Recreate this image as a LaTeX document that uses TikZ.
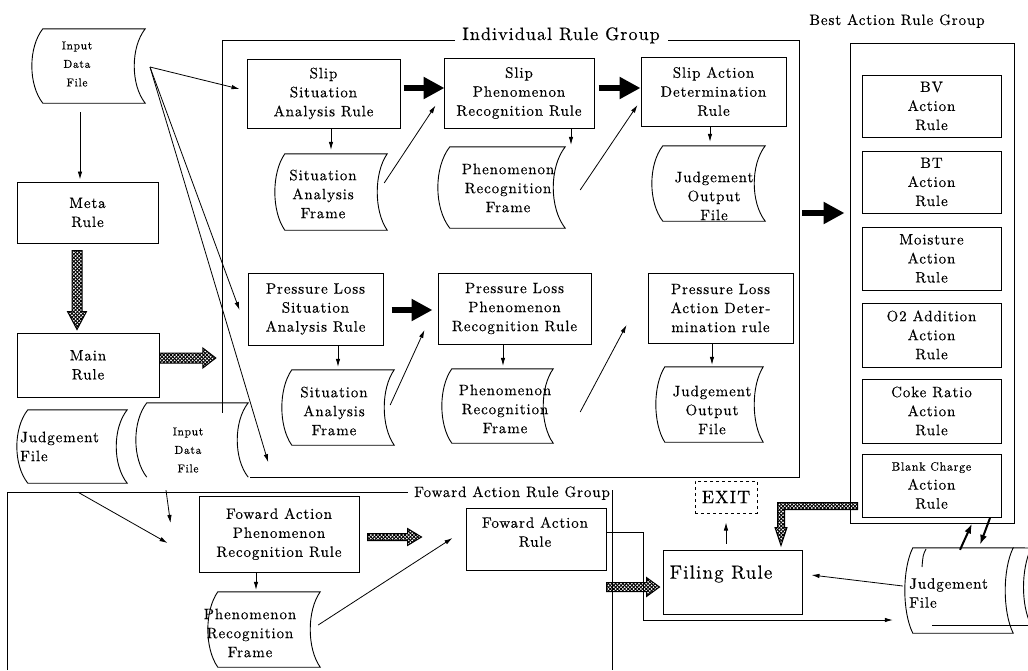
\documentclass[tikz,border=0pt]{standalone}
\usepackage{fontspec}
\setmainfont{lmroman10-regular.otf}[LetterSpace=6,FakeBold=0.3]
\usetikzlibrary{arrows.meta,calc,patterns}
\pgfdeclarepatternformonly{xhatch}{\pgfqpoint{-1pt}{-1pt}}{\pgfqpoint{5pt}{5pt}}{\pgfqpoint{3.6pt}{3.6pt}}{%
 \pgfsetlinewidth{0.85pt}%
 \pgfpathmoveto{\pgfqpoint{-0.1pt}{-0.1pt}}\pgfpathlineto{\pgfqpoint{3.7pt}{3.7pt}}%
 \pgfpathmoveto{\pgfqpoint{-0.1pt}{3.7pt}}\pgfpathlineto{\pgfqpoint{3.7pt}{-0.1pt}}%
 \pgfusepath{stroke}}
\newcommand\fmain{\fontsize{15}{19}\selectfont}
\newcommand\fsm{\fontsize{11.5}{18.5}\selectfont}
\newcommand\fbig{\fontsize{19}{22}\selectfont}
\newcommand\fexit{\fontsize{18}{22}\selectfont}
\newcommand\fblank{\fontsize{12}{15}\selectfont}
\newcommand\flab{\fontsize{18}{22}\selectfont}
\newcommand\flabb{\fontsize{15}{19}\selectfont}
% tape outline around a node: #1 node, #2 bulge
\newcommand\tapeout[2]{\draw[tapeline] (#1.north west) -- (#1.north east)
  .. controls ($(#1.north east)!0.25!(#1.south east)+(-1.33*#2,0)$) and ($(#1.north east)!0.75!(#1.south east)+(-1.33*#2,0)$) .. (#1.south east)
  -- (#1.south west)
  .. controls ($(#1.south west)!0.25!(#1.north west)+(-1.33*#2,0)$) and ($(#1.south west)!0.75!(#1.north west)+(-1.33*#2,0)$) .. (#1.north west) -- cycle;}
\newcommand\tapeopen[2]{\draw[tapeline] (#1.south east)
  .. controls ($(#1.north east)!0.75!(#1.south east)+(-1.33*#2,0)$) and ($(#1.north east)!0.25!(#1.south east)+(-1.33*#2,0)$) .. (#1.north east)
  -- (#1.north west)
  .. controls ($(#1.north west)!0.25!(#1.south west)+(-1.33*#2,0)$) and ($(#1.north west)!0.75!(#1.south west)+(-1.33*#2,0)$) .. (#1.south west);}
% checkered arrows: #1 start, #2 tip, #3 shaft half, #4 head half, #5 head length
\newcommand\chkright[5]{\path[chk] let \p1=(#1), \p2=(#2) in (\x1,\y1+#3) -- (\x2-#5,\y1+#3) -- (\x2-#5,\y1+#4) -- (\x2,\y1) -- (\x2-#5,\y1-#4) -- (\x2-#5,\y1-#3) -- (\x1,\y1-#3) -- cycle;}
\newcommand\chkdown[5]{\path[chk] let \p1=(#1), \p2=(#2) in (\x1-#3,\y1) -- (\x1-#3,\y2+#5) -- (\x1-#4,\y2+#5) -- (\x1,\y2) -- (\x1+#4,\y2+#5) -- (\x1+#3,\y2+#5) -- (\x1+#3,\y1) -- cycle;}
\begin{document}
\begin{tikzpicture}[x=1pt,y=-1pt,
  box/.style={draw, line width=1pt, inner sep=0pt, align=center, font=\fmain},
  tapebox/.style={inner sep=0pt},
  tapeline/.style={line width=0.9pt},
  ttext/.style={align=center, font=\fmain, inner sep=0pt},
  frame/.style={line width=1pt},
  arr/.style={line width=0.8pt, -{Latex[length=8pt,width=4.5pt]}},
  bigarr/.style={line width=6.5pt, -{Triangle[length=21pt,width=21pt]}},
  medarr/.style={line width=2pt, -{Latex[length=10pt,width=7pt]}},
  chk/.style={draw, line width=1pt, pattern=xhatch, line join=miter},
]
\fill[white] (0,0) rectangle (1028,670);
\useasboundingbox (0,0) rectangle (1028,670);

% ---------- group frames ----------
\node[inner sep=0pt, minimum width=577pt, minimum height=437pt] (indiv) at (510.5,258.5) {};
\node[anchor=base, font=\flab, inner sep=0pt] (indlbl) at (561,40) {Individual Rule Group};
\draw[frame] (250,477) -- (799,477) -- (799,40) -- (668,40);
\draw[frame] (455,40) -- (222,40) -- (222,413);

\node[draw, line width=1pt, inner sep=0pt, minimum width=164pt, minimum height=480pt] (best) at (932,283) {};
\node[font=\flabb, inner sep=0pt] (bestlbl) at (897,21) {Best Action Rule Group};

\node[anchor=base west, font=\flabb, inner sep=0pt] (fwdlbl) at (414,497) {Foward Action Rule Group};
\draw[frame] (7,670) -- (7,492) -- (408,492);
\draw[frame] (612,490) -- (612,670);

% ---------- left column ----------
\node[tapebox, minimum width=102pt, minimum height=74pt] (idf1) at (94,66) {};
\tapeout{idf1}{11}
\node[ttext, font=\fsm] (idf1t) at (77,64) {Input\\Data\\File};
\node[box, minimum width=141pt, minimum height=61pt] (metaR) at (87.5,212.5) {Meta\\Rule};
\node[box, minimum width=142pt, minimum height=64pt] (mainR) at (88,365) {Main\\Rule};

\node[tapebox, minimum width=99pt, minimum height=73pt] (jf1) at (77.5,446.5) {};
\tapeout{jf1}{11}
\node[ttext, align=left, anchor=west] (jf1t) at (20,446.5) {Judgement\\File};
\node[tapebox, minimum width=101pt, minimum height=74pt] (idf2) at (197.5,440) {};
\tapeopen{idf2}{11}
\node[ttext, font=\fsm] (idf2t) at (188,450) {Input\\Data\\File};

% ---------- slip row ----------
\node[box, minimum width=153pt, minimum height=69pt] (sSAR) at (323.5,93.5) {Slip\\Situation\\Analysis Rule};
\node[box, minimum width=150pt, minimum height=70pt] (sPRR) at (519,93) {Slip\\Phenomenon\\Recognition Rule};
\node[box, minimum width=145pt, minimum height=69pt] (sADR) at (713.5,91.5) {Slip Action\\Determination\\Rule};
\node[tapebox, minimum width=102pt, minimum height=76pt] (saf1) at (336,192) {};
\tapeout{saf1}{10}
\node[ttext] (saf1t) at (323,194) {Situation\\Analysis\\Frame};
\node[tapebox, minimum width=115pt, minimum height=81pt] (prf1) at (507.5,187.5) {};
\tapeout{prf1}{12}
\node[ttext] (prf1t) at (508,188) {Phenomenon\\Recognition\\Frame};
\node[tapebox, minimum width=102pt, minimum height=75pt] (jof1) at (714,183.5) {};
\tapeout{jof1}{11}
\node[ttext] (jof1t) at (714,196) {Judgement\\Output\\File};

% ---------- pressure loss row ----------
\node[box, minimum width=135pt, minimum height=72pt] (pSAR) at (315.5,309) {Pressure Loss\\Situation\\Analysis Rule};
\node[box, minimum width=153pt, minimum height=71pt] (pPRR) at (514.5,308.5) {Pressure Loss\\Phenomenon\\Recognition Rule};
\node[box, minimum width=145pt, minimum height=70pt] (pADR) at (720.5,308) {Pressure Loss\\Action Deter-\\mination rule};
\node[tapebox, minimum width=102pt, minimum height=75pt] (saf2) at (343,407.5) {};
\tapeout{saf2}{10}
\node[ttext] (saf2t) at (334,411) {Situation\\Analysis\\Frame};
\node[tapebox, minimum width=101pt, minimum height=74pt] (prf2) at (502.5,406) {};
\tapeout{prf2}{10}
\node[ttext] (prf2t) at (505,409) {Phenomenon\\Recognition\\Frame};
\node[tapebox, minimum width=98pt, minimum height=75pt] (jof2) at (714,404.5) {};
\tapeout{jof2}{9}
\node[ttext] (jof2t) at (712,410) {Judgement\\Output\\File};

% ---------- best action rules ----------
\begin{scope}[every node/.style={box, minimum width=139pt}]
\node[minimum height=62pt] (bv) at (931.5,106) {BV\\Action\\Rule};
\node[minimum height=62pt] (bt) at (931.5,182) {BT\\Action\\Rule};
\node[minimum height=63pt] (moist) at (931.5,258.5) {Moisture\\Action\\Rule};
\node[minimum height=64pt] (o2) at (931.5,335) {O2 Addition\\Action\\Rule};
\node[minimum height=64pt] (coke) at (931.5,411) {Coke Ratio\\Action\\Rule};
\node[minimum height=63pt] (blank) at (931.5,485.5) {{\fblank Blank Charge}\\Action\\Rule};
\end{scope}

% ---------- forward action ----------
\node[box, minimum width=160pt, minimum height=76pt] (faPRR) at (279,534) {Foward Action\\Phenomenon\\Recognition Rule};
\node[tapebox, minimum width=102pt, minimum height=75pt] (prf3) at (269,629.5) {};
\tapeout{prf3}{10}
\node[ttext] (prf3t) at (250,633) {Phenomenon\\Recognition\\Frame};
\node[box, minimum width=140pt, minimum height=62pt] (faR) at (536,539) {};
\node[ttext] (faRt) at (535,532) {Foward Action\\Rule};
\node[box, minimum width=139pt, minimum height=64pt] (filing) at (732.5,582) {};
\node[ttext, font=\fbig] (filingt) at (721,574) {Filing Rule};
\node[box, dashed, font=\fexit, minimum width=62pt, minimum height=32pt] (exit) at (726,497) {EXIT};

% right judgement file
\node[tapebox, minimum width=100pt, minimum height=85pt] (jf2) at (963,590.5) {};
\draw[tapeline] (jf2.north east) -- (1030,548);
\draw[tapeline] (1031,548) .. controls (1021,570) and (1021,605) .. (1031,625);
\draw[tapeline] (932,625) -- (1030,625);
\draw[tapeline] (926,549) .. controls (923,555) .. (922,567);
\tapeout{jf2}{8}
\node[ttext, align=left, anchor=west] (jf2t) at (909,593) {Judgement\\File};

% ---------- thin arrows ----------
\coordinate (idfo) at (150,67);
\draw[arr] ($(idf1.south)+(-14,9)$) -- ($(metaR.north)+(-7.5,-2)$);
\draw[arr] (idfo) -- ($(sSAR.west)+(-7,-4.5)$);
\draw[arr] (idfo) -- ($(pSAR.west)+(-8,1)$);
\draw[arr] (idfo) -- ($(idf2.south east)+(20,-15)$);
\draw[arr] ($(sSAR.south)+(7.5,0)$) -- ($(saf1.north)+(-5,-4)$);
\draw[arr] ($(saf1.east)+(-3,-9)$) -- ($(sPRR.south west)+(-8,-23)$);
\draw[arr] ($(sPRR.south)+(52,0)$) -- ($(prf1.north)+(63.5,-2)$);
\draw[arr] ($(prf1.east)+(15,2.5)$) -- ($(sADR.west)+(-3,13.5)$);
\draw[arr] ($(sADR.south)+(-3.5,0)$) -- ($(jof1.north)+(-4,-4)$);
\draw[arr] ($(pSAR.south)+(22.5,0)$) -- ($(saf2.north)+(-5,-3)$);
\draw[arr] ($(saf2.east)+(-4,-2.5)$) -- ($(pPRR.west)+(-13,21.5)$);
\draw[arr] ($(pPRR.south)+(-11.5,0)$) -- ($(prf2.north)+(0.5,-3)$);
\draw[arr] ($(prf2.east)+(27,6)$) -- ($(pADR.west)+(-21,17)$);
\draw[arr] ($(pADR.south)+(-8.5,0)$) -- ($(jof2.north)+(-2,-2)$);
\draw[arr] ($(jf1.south)+(0.5,9)$) -- ($(faPRR.west)+(-31,9)$);
\draw[arr] ($(idf2.south)+(-31.5,13)$) -- ($(faPRR.west)+(-28,-11)$);
\draw[arr] ($(faPRR.south)+(-23,0)$) -- ($(prf3.north)+(-13,-2)$);
\draw[arr] ($(prf3.east)+(-2,-4.5)$) -- ($(faR.west)+(-13,-1)$);
\draw[arr] ($(faR.east)+(0,-7)$) -- ++(37,0) |- ($(jf2.west)+(-20,29.5)$);
\draw[arr] ($(filing.north)+(-6.5,-6)$) -- ($(exit.south)+(0,9)$);
\draw[arr] ($(jf2.west)+(-10,-4.5)$) -- ($(filing.east)+(9,-7)$);
\draw[medarr] ($(jf2.north)+(-3,2)$) -- ($(blank.south)+(40.5,6)$);
\draw[medarr] ($(blank.south)+(58.5,0.5)$) -- ($(jf2.north)+(17,-3)$);

% ---------- thick black arrows ----------
\draw[bigarr] ($(sSAR.east)+(3,-5.5)$) -- ($(sPRR.west)+(1,-5)$);
\draw[bigarr] ($(sPRR.east)+(4,-5)$) -- ($(sADR.west)+(0,-3.5)$);
\draw[bigarr] ($(pSAR.east)+(8,1)$) -- ($(pPRR.west)+(-5,1.5)$);
\draw[bigarr] ($(indiv.east)+(3,-45.5)$) -- ($(best.west)+(-5,-70)$);

% ---------- checkered arrows ----------
\chkdown{$(metaR.south)+(-10.5,7)$}{$(mainR.north)+(-11,-3)$}{5pt}{9.5pt}{18pt}
\chkright{$(mainR.east)+(0,-7)$}{$(indiv.west)+(-6,99.5)$}{5pt}{10pt}{13pt}
\chkright{$(faPRR.east)+(8,3)$}{$(faR.west)+(-44,-2)$}{3.5pt}{8.5pt}{14pt}
\chkright{$(faR.east)+(0,48)$}{$(filing.west)+(-3,5)$}{4.5pt}{9.5pt}{13pt}
\path[chk] let \p1=($(best.west)+(8,223)$), \p2=($(filing.north)+(48.5,-4)$) in
  (\x1,\y1+3.5pt) -- (\x2-3.5pt,\y1+3.5pt) -- (\x2-3.5pt,\y2+18pt) -- (\x2-6pt,\y2+18pt) -- (\x2,\y2)
  -- (\x2+6pt,\y2+18pt) -- (\x2+3.5pt,\y2+18pt) -- (\x2+3.5pt,\y1-3.5pt) -- (\x1,\y1-3.5pt) -- cycle;
\end{tikzpicture}
\end{document}
